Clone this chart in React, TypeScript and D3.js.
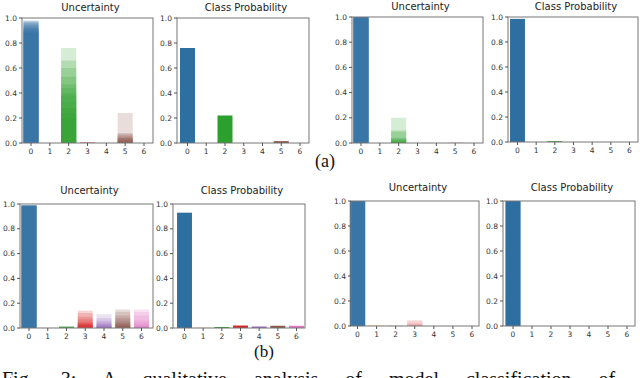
import React from 'react';
import * as d3 from 'd3';

// class index -> colour (matplotlib tab10 order)
const classes = [0, 1, 2, 3, 4, 5, 6];
const classColors = ['#2e6fa1', '#ff7f0e', '#2ca02c', '#d62728', '#9467bd', '#8c564b', '#e377c2'];
const yTicks = [0, 0.2, 0.4, 0.6, 0.8, 1.0];

// (a) left: MC samples per class
const uncA1 = [
  [0.98, 0.975, 0.97, 0.96, 0.95, 0.94, 0.93, 0.92, 0.91, 0.9, 0.89, 0.88],
  [0, 0, 0, 0, 0, 0, 0, 0, 0, 0, 0, 0],
  [0.76, 0.66, 0.6, 0.53, 0.47, 0.44, 0.4, 0.38, 0.33, 0.28, 0.24, 0.2],
  [0.006, 0.005, 0.004, 0.003, 0.002, 0.002, 0.001, 0.001, 0, 0, 0, 0],
  [0, 0, 0, 0, 0, 0, 0, 0, 0, 0, 0, 0],
  [0.24, 0.08, 0.07, 0.06, 0.05, 0.04, 0.04, 0.03, 0.02, 0.02, 0.01, 0.01],
  [0, 0, 0, 0, 0, 0, 0, 0, 0, 0, 0, 0],
];
const probA1 = [0.76, 0, 0.22, 0, 0, 0.015, 0];

// (a) right
const uncA2 = [
  [1.0, 1.0, 1.0, 0.999, 0.999, 0.998, 0.998, 0.997, 0.996, 0.995, 0.994, 0.993],
  [0, 0, 0, 0, 0, 0, 0, 0, 0, 0, 0, 0],
  [0.2, 0.1, 0.09, 0.04, 0.035, 0.03, 0.02, 0.015, 0.01, 0.01, 0.005, 0.003],
  [0, 0, 0, 0, 0, 0, 0, 0, 0, 0, 0, 0],
  [0, 0, 0, 0, 0, 0, 0, 0, 0, 0, 0, 0],
  [0.004, 0.002, 0.001, 0, 0, 0, 0, 0, 0, 0, 0, 0],
  [0, 0, 0, 0, 0, 0, 0, 0, 0, 0, 0, 0],
];
const probA2 = [0.985, 0, 0.007, 0, 0, 0, 0];

// (b) left
const uncB1 = [
  [0.99, 0.99, 0.99, 0.988, 0.988, 0.987, 0.986, 0.986, 0.985, 0.985, 0.984, 0.983],
  [0.001, 0, 0, 0, 0, 0, 0, 0, 0, 0, 0, 0],
  [0.013, 0.012, 0.011, 0.01, 0.01, 0.009, 0.008, 0.008, 0.007, 0.006, 0.005, 0.004],
  [0.14, 0.12, 0.09, 0.07, 0.05, 0.04, 0.035, 0.03, 0.025, 0.02, 0.015, 0.01],
  [0.11, 0.08, 0.06, 0.045, 0.035, 0.03, 0.02, 0.015, 0.012, 0.01, 0.005, 0.003],
  [0.15, 0.13, 0.1, 0.08, 0.06, 0.045, 0.035, 0.03, 0.02, 0.015, 0.01, 0.005],
  [0.15, 0.13, 0.1, 0.06, 0.045, 0.03, 0.02, 0.015, 0.01, 0.008, 0.005, 0.003],
];
const probB1 = [0.93, 0.001, 0.008, 0.02, 0.012, 0.018, 0.018];

// (b) right
const uncB2 = [
  [1.0, 1.0, 1.0, 1.0, 1.0, 1.0, 1.0, 1.0, 1.0, 1.0, 1.0, 1.0],
  [0.005, 0.003, 0.002, 0, 0, 0, 0, 0, 0, 0, 0, 0],
  [0.004, 0.002, 0, 0, 0, 0, 0, 0, 0, 0, 0, 0],
  [0.045, 0.02, 0.005, 0, 0, 0, 0, 0, 0, 0, 0, 0],
  [0, 0, 0, 0, 0, 0, 0, 0, 0, 0, 0, 0],
  [0, 0, 0, 0, 0, 0, 0, 0, 0, 0, 0, 0],
  [0, 0, 0, 0, 0, 0, 0, 0, 0, 0, 0, 0],
];
const probB2 = [1.0, 0, 0, 0, 0, 0, 0];

const panels = [
  { title: 'Uncertainty', samples: uncA1, left: 22, right: 153, top: 18, bottom: 143, x0: 31, x6: 144, titleY: 11 },
  { title: 'Class Probability', probs: probA1, left: 177, right: 309, top: 18, bottom: 143, x0: 187.5, x6: 300, titleY: 11 },
  { title: 'Uncertainty', samples: uncA2, left: 352, right: 483, top: 17, bottom: 143, x0: 361, x6: 474, titleY: 10 },
  { title: 'Class Probability', probs: probA2, left: 508, right: 638, top: 17, bottom: 142, x0: 517.5, x6: 629.5, titleY: 10 },
  { title: 'Uncertainty', samples: uncB1, left: 20, right: 153, top: 204, bottom: 328, x0: 29, x6: 141.5, titleY: 194 },
  { title: 'Class Probability', probs: probB1, left: 173, right: 305, top: 204, bottom: 328, x0: 184.5, x6: 296.5, titleY: 194 },
  { title: 'Uncertainty', samples: uncB2, left: 351, right: 479, top: 201, bottom: 326, x0: 357.5, x6: 472, titleY: 191 },
  { title: 'Class Probability', probs: probB2, left: 503, right: 635, top: 201, bottom: 326, x0: 513, x6: 627, titleY: 191 },
];

const Panel = ({ p }) => {
  const x = d3.scaleLinear().domain([0, 6]).range([p.x0, p.x6]);
  const y = d3.scaleLinear().domain([0, 1]).range([p.bottom, p.top]);
  const bw = (x(1) - x(0)) * 0.8;
  const fmt = d3.format('.1f');
  return (
    <g fontFamily="DejaVu Sans, sans-serif">
      {p.samples &&
        p.samples.map((vals, c) =>
          vals.filter(v => v > 0).map((v, i) => (
            <rect key={`${c}-${i}`} x={x(c) - bw / 2} width={bw} y={y(v)} height={y(0) - y(v)}
              fill={classColors[c]} fillOpacity={0.2} />
          ))
        )}
      {p.probs &&
        p.probs.map((v, c) => (
          <rect key={c} x={x(c) - bw / 2} width={bw} y={y(v)} height={y(0) - y(v)} fill={classColors[c]} />
        ))}
      <rect x={p.left} y={p.top} width={p.right - p.left} height={p.bottom - p.top}
        fill="none" stroke="#777" strokeWidth={1} />
      {yTicks.map(t => (
        <g key={t}>
          <line x1={p.left - 3} x2={p.left} y1={y(t)} y2={y(t)} stroke="#555" />
          <text x={p.left - 5} y={y(t)} dy="0.35em" textAnchor="end" fontSize={7.5} fill="#333">{fmt(t)}</text>
        </g>
      ))}
      {classes.map(c => (
        <g key={c}>
          <line x1={x(c)} x2={x(c)} y1={p.bottom} y2={p.bottom + 3} stroke="#555" />
          <text x={x(c)} y={p.bottom + 11} textAnchor="middle" fontSize={7.5} fill="#333">{c}</text>
        </g>
      ))}
      <text x={(p.left + p.right) / 2 + 3} y={p.titleY} textAnchor="middle" fontSize={10} fill="#222">{p.title}</text>
    </g>
  );
};

export default function App() {
  return (
    <svg width={640} height={378} style={{ position: 'absolute', left: 0, top: 0, background: '#fff' }}>
      <rect width={640} height={378} fill="#fff" />
      {panels.map((p, i) => <Panel key={i} p={p} />)}
      <text x={325} y={167} textAnchor="middle" fontSize={18} fontFamily="Liberation Serif, serif" fill="#111">(a)</text>
      <text x={264} y={357} textAnchor="middle" fontSize={17} fontFamily="Liberation Serif, serif" fill="#111">(b)</text>
      <text x={2} y={386} fontSize={20} fontFamily="Liberation Serif, serif" fill="#111"
        wordSpacing={22}>Fig. 3: A qualitative analysis of model classification of</text>
    </svg>
  );
}
